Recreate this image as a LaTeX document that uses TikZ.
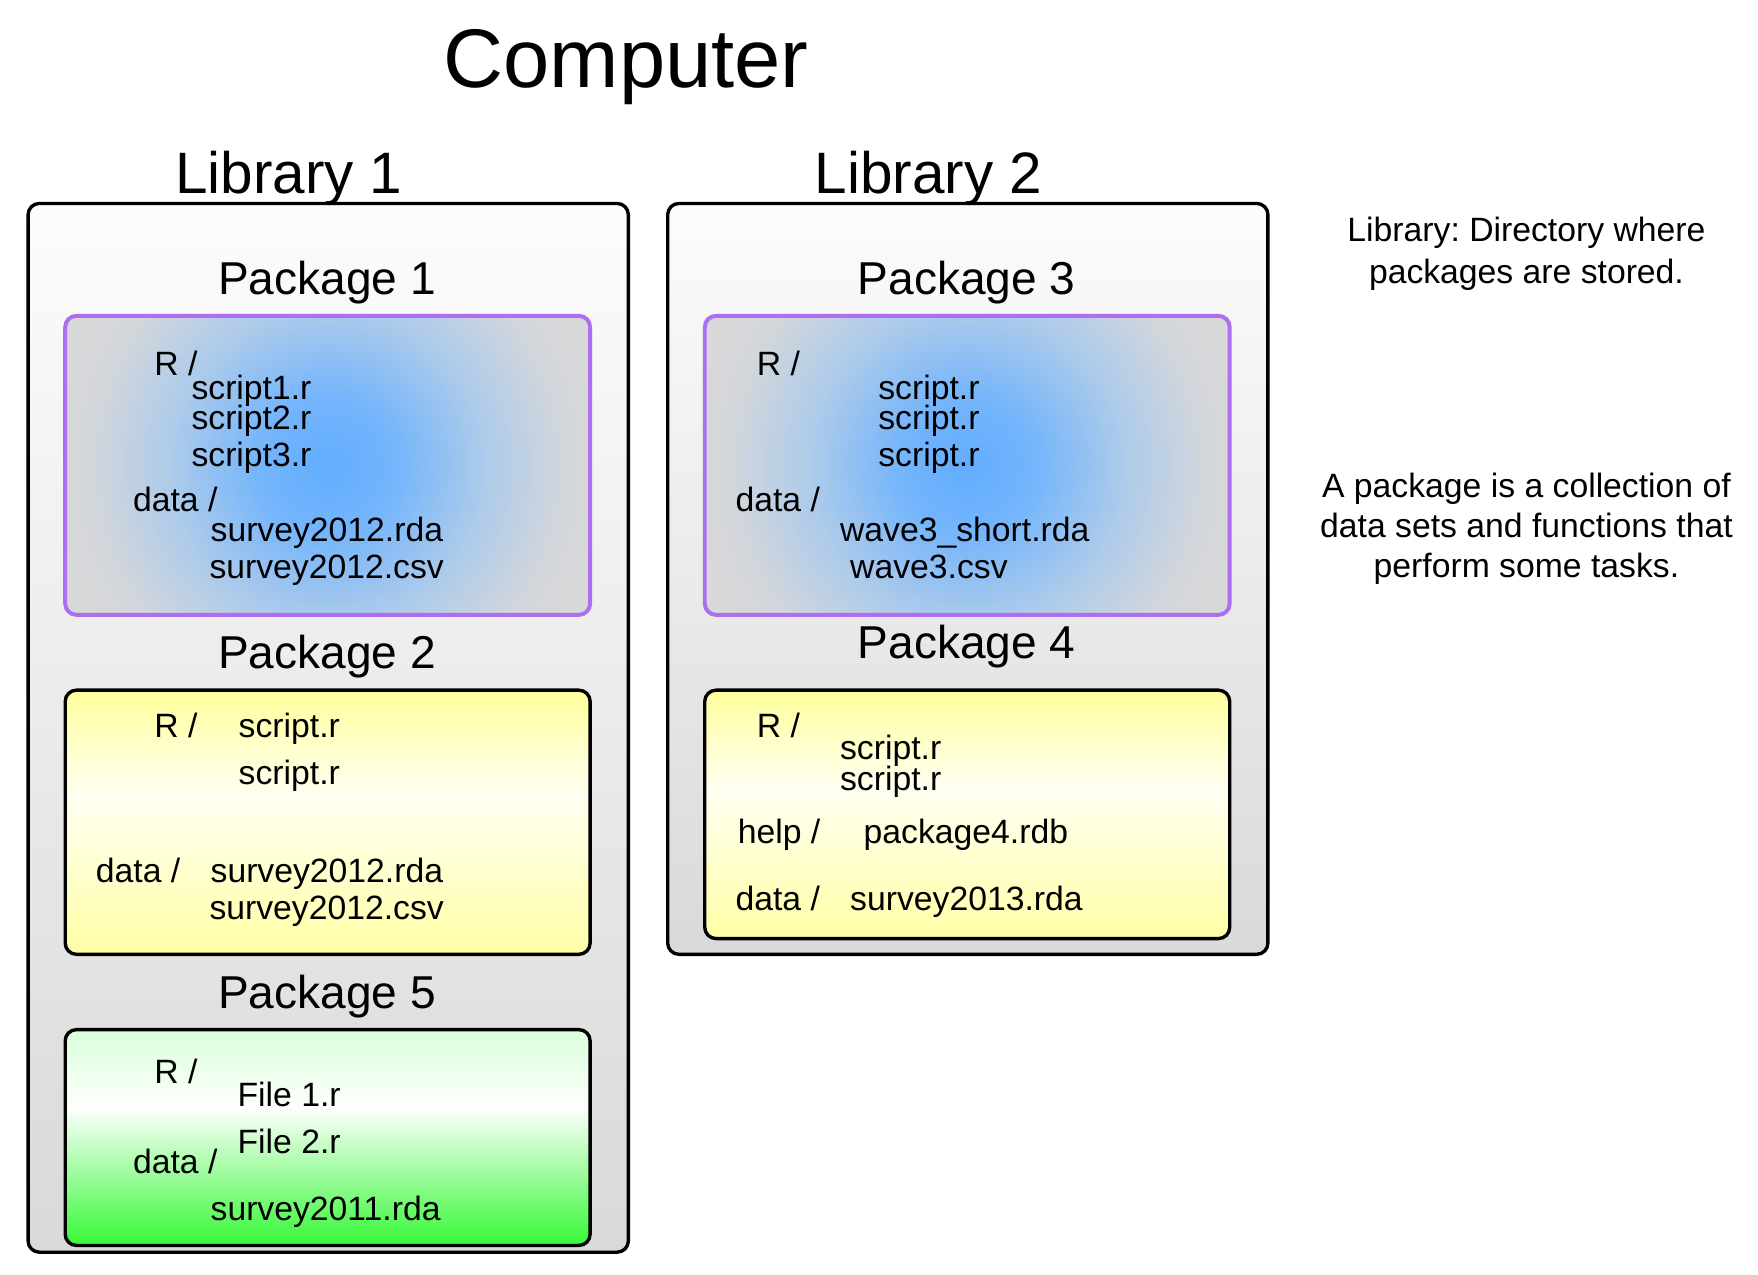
\documentclass[tikz,border=0pt]{standalone}
\usepackage{fontspec}
\setmainfont{Liberation Sans}
\frenchspacing
\definecolor{libtop}{HTML}{FCFCFC}
\definecolor{libbot}{HTML}{D9D9D9}
\definecolor{purp}{HTML}{AE6EF2}
\definecolor{pbA}{HTML}{62ADFF}
\definecolor{pbB}{HTML}{74B5FB}
\definecolor{pbC}{HTML}{AECBEA}
\definecolor{pbD}{HTML}{D3D6DB}
\definecolor{pbE}{HTML}{D8D8D8}
\definecolor{yTop}{HTML}{FFFF9C}
\definecolor{yMid}{HTML}{FFFFF2}
\definecolor{yBot}{HTML}{FFFFA6}
\definecolor{gTop}{HTML}{DAFFDA}
\definecolor{gMid}{HTML}{FDFFFD}
\definecolor{gBot}{HTML}{36F836}
\pgfdeclareradialshading{pkgblue}{\pgfpoint{0bp}{0bp}}{color(0bp)=(pbA); color(6bp)=(pbB); color(14bp)=(pbC); color(21bp)=(pbD); color(25bp)=(pbE); color(50bp)=(pbE)}
\pgfdeclareverticalshading{pkgyellow}{100bp}{color(0bp)=(yBot); color(25bp)=(yBot); color(55bp)=(yMid); color(75bp)=(yTop); color(100bp)=(yTop)}
\pgfdeclareverticalshading{pkggreen}{100bp}{color(0bp)=(gBot); color(25bp)=(gBot); color(57bp)=(gMid); color(75bp)=(gTop); color(100bp)=(gTop)}
\begin{document}
\begin{tikzpicture}[x=0.5pt,y=-0.5pt,
  boxbase/.style={rounded corners=5pt, anchor=north west, inner sep=0pt, outer sep=0pt},
  libbox/.style={boxbase, draw=black, line width=1.5pt, top color=libtop, bottom color=libbot, minimum width=267pt},
  bluebox/.style={boxbase, draw=purp, line width=1.75pt, fill=pbE, minimum width=233.5pt,
    path picture={\shade[shading=pkgblue] ([shift={(-126pt,-126pt)}]path picture bounding box.center) rectangle ([shift={(126pt,126pt)}]path picture bounding box.center);}},
  yellowbox/.style={boxbase, draw=black, line width=1.5pt, shade, shading=pkgyellow, minimum width=233.5pt},
  greenbox/.style={boxbase, draw=black, line width=1.5pt, shade, shading=pkggreen, minimum width=233.5pt},
  bigtitle/.style={anchor=base, inner sep=0pt, font=\fontsize{37}{40}\selectfont},
  libtitle/.style={anchor=base, inner sep=0pt, font=\fontsize{26}{28}\selectfont},
  pkgtitle/.style={anchor=base, inner sep=0pt, font=\fontsize{20.5}{24}\selectfont},
  item/.style={anchor=base west, inner sep=0pt, font=\fontsize{15}{18}\selectfont},
  note/.style={anchor=base, inner sep=0pt, font=\fontsize{15}{18}\selectfont}]
\useasboundingbox (0,0) rectangle (1564,1134);

% libraries
\node[libbox, minimum height=466.5pt] (lib1) at (25,181) {};
\node[libbox, minimum height=334pt] (lib2) at (594,181) {};

% packages
\node[bluebox, minimum height=133pt] (pkg1) at (58,281) {};
\node[bluebox, minimum height=133pt] (pkg3) at (627,281) {};
\node[yellowbox, minimum height=117.5pt] (pkg2) at (58,614) {};
\node[yellowbox, minimum height=110.5pt] (pkg4) at (627,614) {};
\node[greenbox, minimum height=96pt] (pkg5) at (58,916) {};

% titles
\node[bigtitle] (tcomp) at (557,78) {Computer};
\node[libtitle] (tlib1) at (257,172) {Library 1};
\node[libtitle] (tlib2) at (826,172) {Library 2};
\node[pkgtitle] (tp1) at (291,262) {Package 1};
\node[pkgtitle] (tp3) at (860,262) {Package 3};
\node[pkgtitle] (tp2) at (291,595) {Package 2};
\node[pkgtitle] (tp4) at (860,586) {Package 4};
\node[pkgtitle] (tp5) at (291,897) {Package 5};

% package 1
\node[item] (p1r) at (137,334) {R /};
\node[item] (p1s1) at (170,355) {script1.r};
\node[item] (p1s2) at (170,382) {script2.r};
\node[item] (p1s3) at (170,415) {script3.r};
\node[item] (p1d) at (118,455) {data /};
\node[item] (p1f1) at (187,482) {survey2012.rda};
\node[item] (p1f2) at (186,515) {survey2012.csv};

% package 3
\node[item] (p3r) at (673,334) {R /};
\node[item] (p3s1) at (781,355) {script.r};
\node[item] (p3s2) at (781,382) {script.r};
\node[item] (p3s3) at (781,415) {script.r};
\node[item] (p3d) at (654,455) {data /};
\node[item] (p3f1) at (747,482) {wave3\_short.rda};
\node[item] (p3f2) at (756,515) {wave3.csv};

% package 2
\node[item] (p2r) at (137,656) {R /};
\node[item] (p2s1) at (212,656) {script.r};
\node[item] (p2s2) at (212,698) {script.r};
\node[item] (p2d) at (85,785) {data /};
\node[item] (p2f1) at (187,785) {survey2012.rda};
\node[item] (p2f2) at (186,818) {survey2012.csv};

% package 4
\node[item] (p4r) at (673,656) {R /};
\node[item] (p4s1) at (747,676) {script.r};
\node[item] (p4s2) at (747,703) {script.r};
\node[item] (p4h) at (656,750) {help /};
\node[item] (p4hf) at (768,750) {package4.rdb};
\node[item] (p4d) at (654,810) {data /};
\node[item] (p4f) at (756,810) {survey2013.rda};

% package 5
\node[item] (p5r) at (137,964) {R /};
\node[item] (p5s1) at (211,984) {File 1.r};
\node[item] (p5s2) at (211,1026) {File 2.r};
\node[item] (p5d) at (118,1044) {data /};
\node[item] (p5f) at (187,1086) {survey2011.rda};

% notes
\node[note] (n1a) at (1358,215) {Library: Directory where};
\node[note] (n1b) at (1358,252) {packages are stored.};
\node[note] (n2a) at (1358,443) {A package is a collection of};
\node[note] (n2b) at (1358,478) {data sets and functions that};
\node[note] (n2c) at (1358,514) {perform some tasks.};
\end{tikzpicture}
\end{document}
